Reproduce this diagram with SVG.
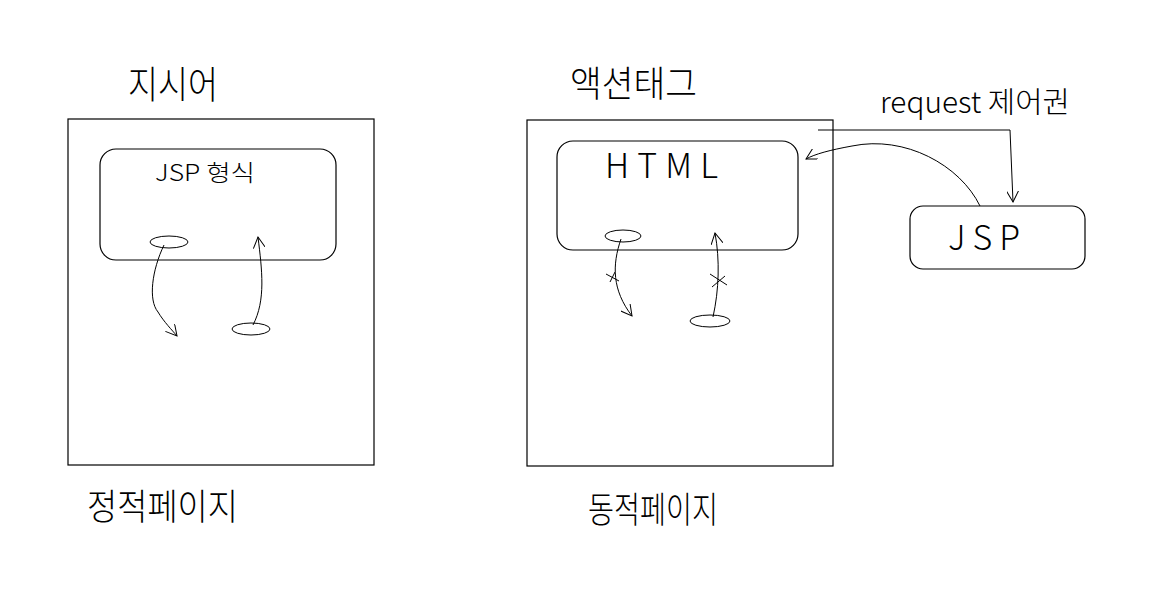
<svg xmlns="http://www.w3.org/2000/svg" width="1167" height="615" viewBox="0 0 1167 615">
<style>
.box{fill:none;stroke:#000;stroke-width:1.2}
.ln{fill:none;stroke:#000;stroke-width:1}
.t{font-family:"Noto Sans CJK KR","Liberation Sans",sans-serif;fill:#000;font-weight:300}
</style>
<defs>
<marker id="ah" viewBox="0 0 12 12" refX="11" refY="6" markerWidth="12" markerHeight="12" markerUnits="userSpaceOnUse" orient="auto">
<path d="M0,0 L11,6 L0,12" fill="none" stroke="#000" stroke-width="1"/>
</marker>
</defs>
<rect width="1167" height="615" fill="#fff"/>
<g id="static-page">
<rect class="box" x="68" y="119" width="306" height="346"/>
<text class="t" x="128" y="98" font-size="38" textLength="90" lengthAdjust="spacingAndGlyphs">지시어</text>
<text class="t" x="87" y="520" font-size="36" textLength="151" lengthAdjust="spacingAndGlyphs">정적페이지</text>
</g>
<g id="jsp-form">
<rect class="box" x="100" y="149" width="236" height="111" rx="16"/>
<text class="t" x="155" y="181" font-size="23" textLength="100" lengthAdjust="spacingAndGlyphs">JSP 형식</text>
</g>
<g id="oval1"><ellipse class="ln" cx="169" cy="242" rx="19" ry="6"/></g>
<g id="oval2"><ellipse class="ln" cx="251" cy="329" rx="19" ry="6"/></g>
<g id="dynamic-page">
<rect class="box" x="527" y="120" width="306" height="346"/>
<text class="t" x="570" y="97" font-size="36" textLength="127" lengthAdjust="spacingAndGlyphs">액션태그</text>
<text class="t" x="588" y="523" font-size="36" textLength="130" lengthAdjust="spacingAndGlyphs">동적페이지</text>
</g>
<g id="html">
<rect class="box" x="557" y="141" width="241" height="109" rx="16"/>
<text class="t" x="605" y="178" font-size="34" textLength="113" lengthAdjust="spacing">HTML</text>
</g>
<g id="oval3"><ellipse class="ln" cx="623" cy="236" rx="18" ry="6"/></g>
<g id="oval4"><ellipse class="ln" cx="710" cy="321" rx="20" ry="6"/></g>
<g id="jsp">
<rect class="box" x="910" y="206" width="175" height="63" rx="13"/>
<text class="t" x="948" y="250" font-size="34" textLength="72" lengthAdjust="spacing">JSP</text>
</g>
<text class="t" x="880" y="113" font-size="29" textLength="190" lengthAdjust="spacingAndGlyphs">request 제어권</text>
<g id="connectors">
<path class="ln" d="M164,245 C152,270 148,300 158,312 C164,322 172,330 177,336" marker-end="url(#ah)"/>
<path class="ln" d="M253,325 C266,300 262,270 258,237" marker-end="url(#ah)"/>
<path class="ln" d="M621,239 C612,265 612,290 632,316" marker-end="url(#ah)"/>
<path class="ln" d="M606,274 L619,281 M610,282 L615,272"/>
<path class="ln" d="M713,317 C719,290 720,260 715,233" marker-end="url(#ah)"/>
<path class="ln" d="M710,274 L727,285 M712,287 L725,276"/>
<path class="ln" d="M818,130 L1010,130 L1013,202" marker-end="url(#ah)"/>
<path class="ln" d="M980,206 C960,165 905,135 852,146 C830,150 815,154 806,159" marker-end="url(#ah)"/>
</g>
</svg>
